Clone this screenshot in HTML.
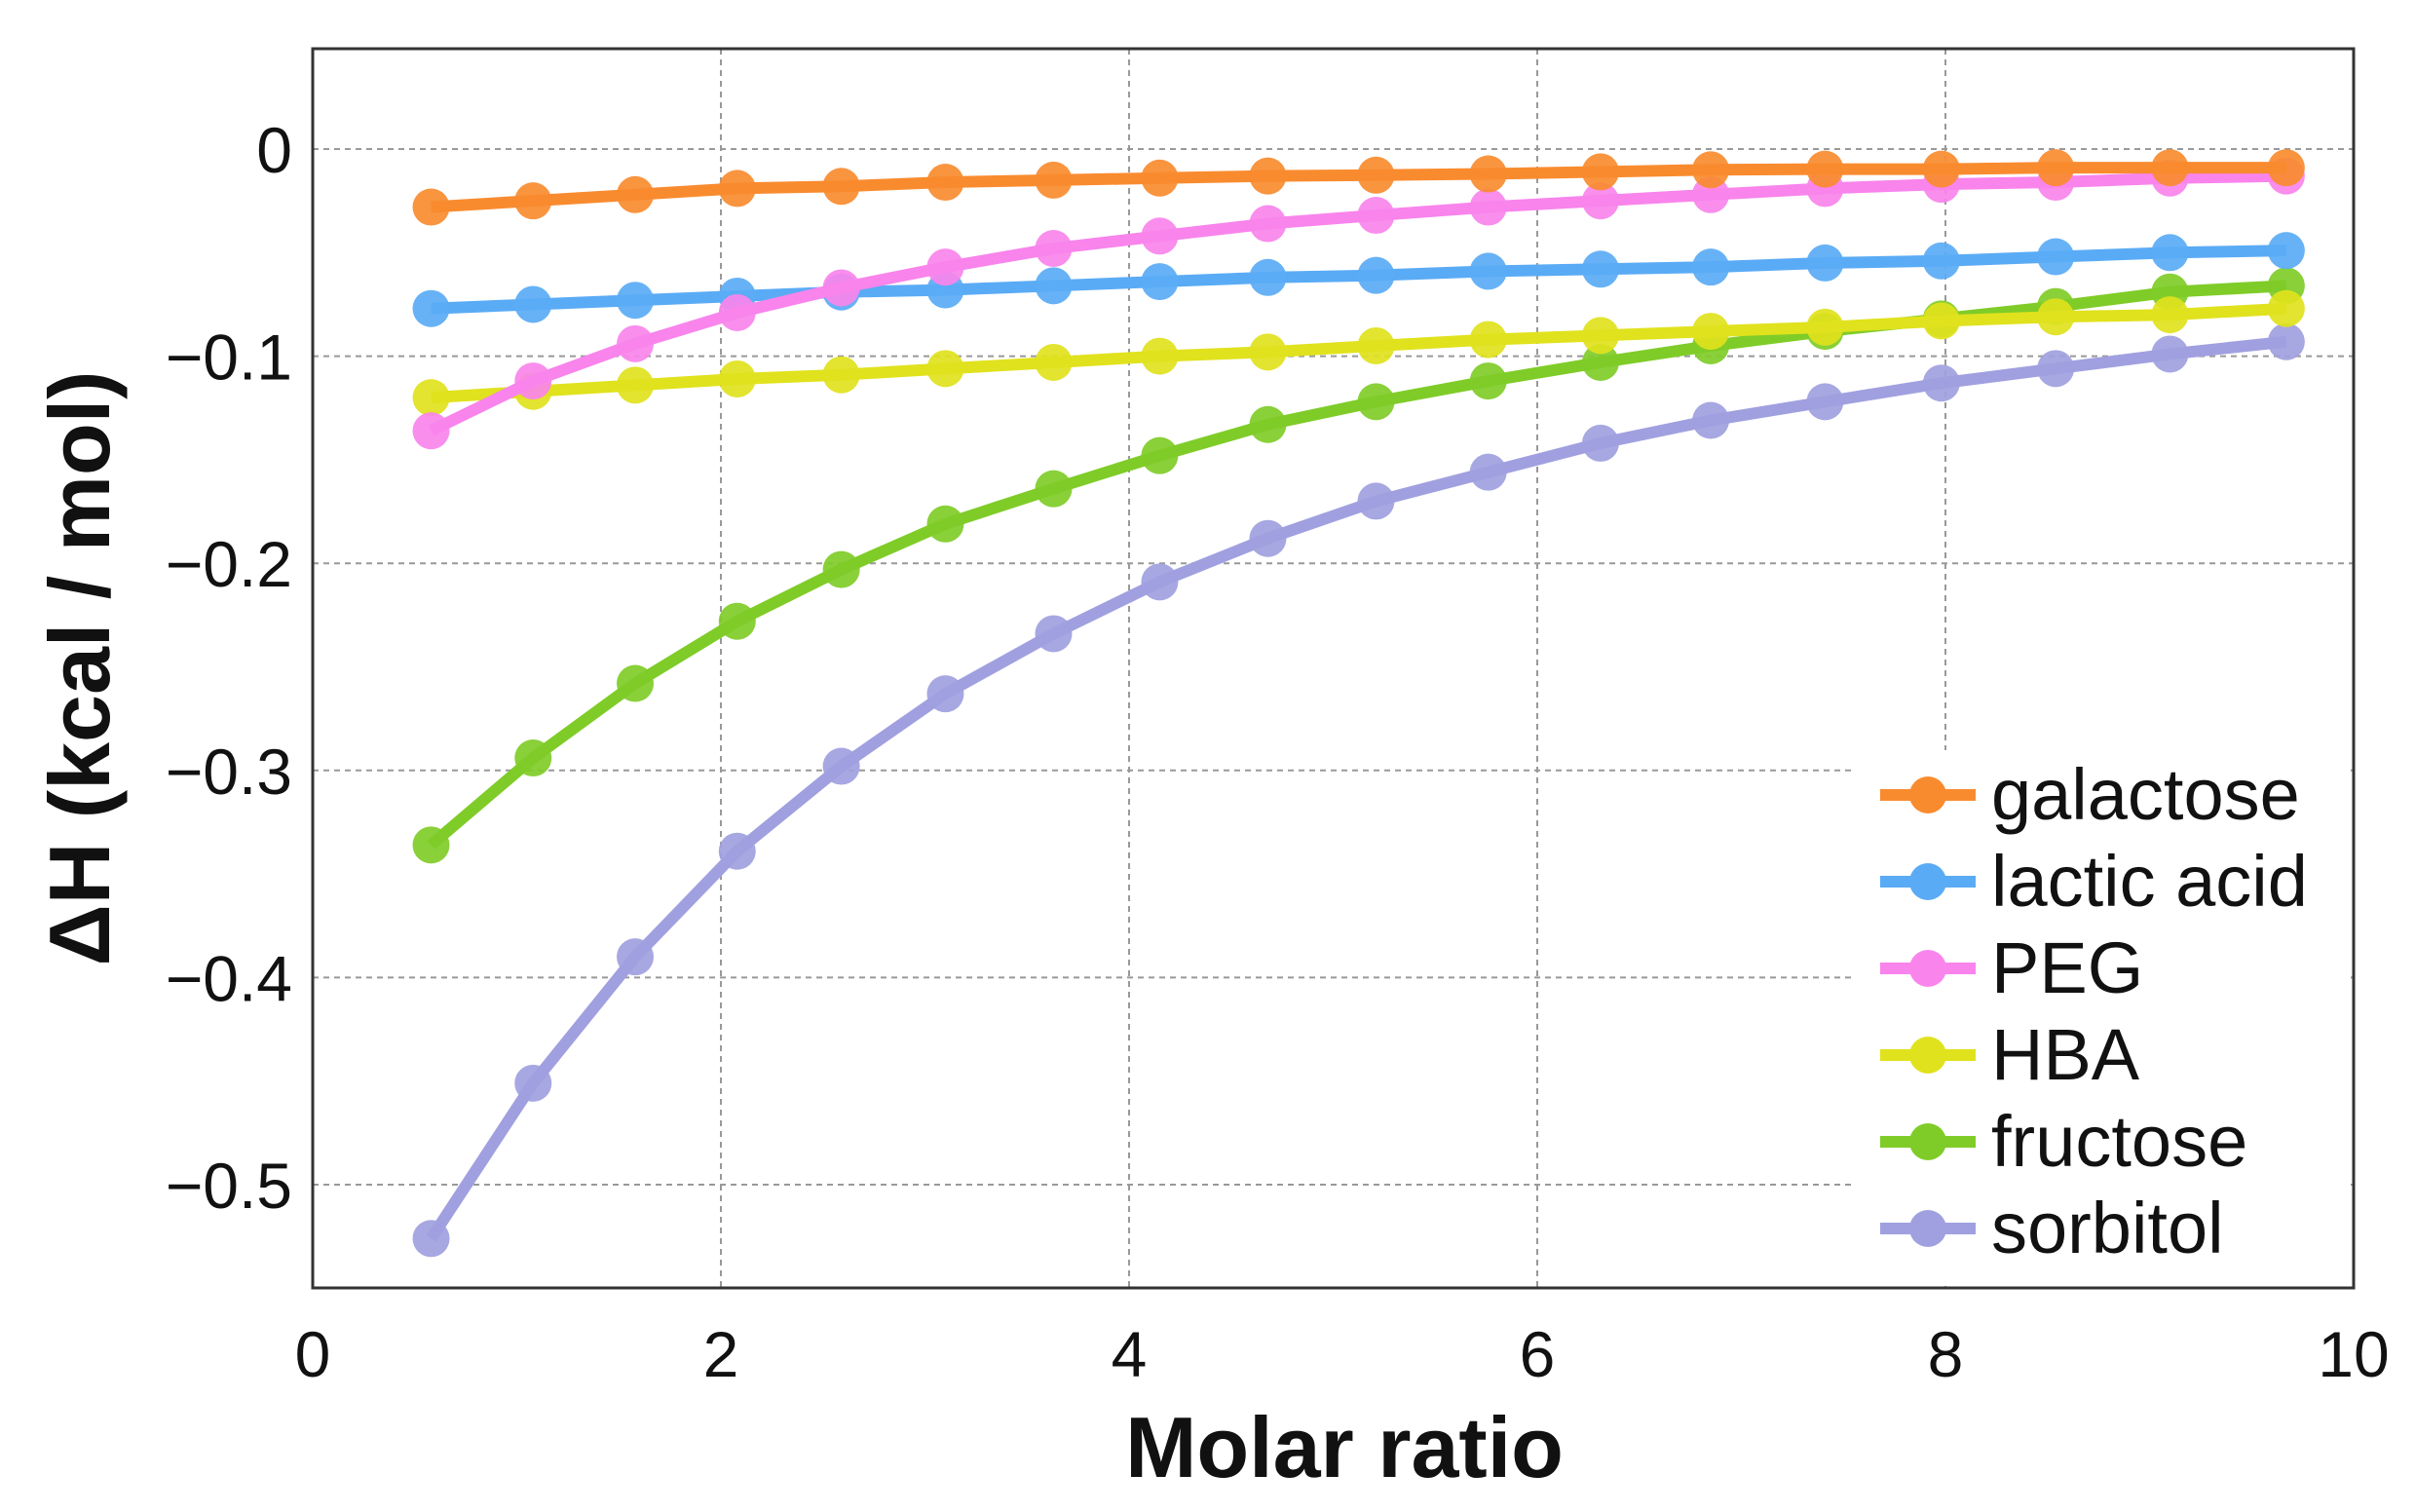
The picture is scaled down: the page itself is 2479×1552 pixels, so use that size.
<!DOCTYPE html>
<html><head><meta charset="utf-8"><style>
html,body{margin:0;padding:0;background:#fff;}
svg{display:block;font-family:"Liberation Sans","DejaVu Sans",sans-serif;}
</style></head><body>
<svg id="chart" width="2479" height="1552" viewBox="0 0 2479 1552" xmlns="http://www.w3.org/2000/svg">
<rect x="0" y="0" width="2479" height="1552" fill="#fff"/>
<g id="grid"></g>
<g id="series"></g>
<g id="legend"></g>
<rect x="321" y="50" width="2095" height="1272" fill="none" stroke="#333" stroke-width="3"/>
<g id="ticks"></g>
<text x="1380" y="1516" text-anchor="middle" font-size="88" font-weight="bold" fill="#111">Molar ratio</text>
<text transform="translate(112,686) rotate(-90)" text-anchor="middle" font-size="88" font-weight="bold" fill="#111">ΔH (kcal / mol)</text>
</svg>
<script>
const xValues = [0.58,1.08,1.58,2.08,2.59,3.1,3.63,4.15,4.68,5.21,5.76,6.31,6.85,7.41,7.98,8.54,9.1,9.67];
const seriesNames = ["galactose","lactic acid","PEG","HBA","fructose","sorbitol"];
const galactose = [-0.028,-0.025,-0.022,-0.019,-0.018,-0.016,-0.015,-0.014,-0.013,-0.0126,-0.012,-0.011,-0.010,-0.0097,-0.0097,-0.009,-0.009,-0.009];
const lacticAcid = [-0.077,-0.075,-0.073,-0.071,-0.069,-0.068,-0.066,-0.064,-0.062,-0.061,-0.059,-0.058,-0.057,-0.055,-0.054,-0.052,-0.050,-0.049];
const peg = [-0.136,-0.112,-0.094,-0.079,-0.067,-0.057,-0.048,-0.042,-0.036,-0.032,-0.028,-0.025,-0.022,-0.019,-0.017,-0.016,-0.014,-0.013];
const hba = [-0.120,-0.117,-0.114,-0.111,-0.109,-0.106,-0.103,-0.100,-0.098,-0.095,-0.092,-0.090,-0.088,-0.086,-0.083,-0.081,-0.080,-0.077];
const fructose = [-0.336,-0.294,-0.258,-0.228,-0.203,-0.181,-0.164,-0.148,-0.133,-0.122,-0.112,-0.103,-0.095,-0.088,-0.082,-0.076,-0.069,-0.066];
const sorbitol = [-0.526,-0.451,-0.390,-0.339,-0.298,-0.263,-0.234,-0.209,-0.188,-0.170,-0.156,-0.142,-0.131,-0.122,-0.113,-0.106,-0.099,-0.093];
const xTicks = [0,2,4,6,8,10];
const yTicks = [0,-0.1,-0.2,-0.3,-0.4,-0.5];
const yTickLabels = ["0","−0.1","−0.2","−0.3","−0.4","−0.5"];

const NS="http://www.w3.org/2000/svg";
const L=321,R=2416,T=50,B=1322;
function xs(v){return L+v*(R-L)/10;}
function ys(v){return 153+(-v)*2126;}
function mk(tag,attrs,parent){const e=document.createElementNS(NS,tag);for(const k in attrs)e.setAttribute(k,attrs[k]);parent.appendChild(e);return e;}
const grid=document.getElementById('grid'),ticks=document.getElementById('ticks'),sg=document.getElementById('series'),lg=document.getElementById('legend');
xTicks.forEach(t=>{
  if(t>0&&t<10){const g=mk('line',{x1:xs(t),x2:xs(t),y1:T,y2:B,stroke:'#999','stroke-width':2,'stroke-dasharray':'6,5'},grid);
  
  }
  const tx=mk('text',{x:xs(t),y:1413,'text-anchor':'middle','font-size':66,fill:'#111'},ticks);
  tx.textContent=String(t);
  
  
});
yTicks.forEach((t,i)=>{
  const g=mk('line',{x1:L,x2:R,y1:ys(t),y2:ys(t),stroke:'#999','stroke-width':2,'stroke-dasharray':'6,5'},grid);
  
  
  const tx=mk('text',{x:300,y:ys(t)+24,'text-anchor':'end','font-size':66,fill:'#111'},ticks);
  tx.textContent=yTickLabels[i];
  
  
});
const data=[galactose,lacticAcid,peg,hba,fructose,sorbitol];
const colors=["#f98b2f","#5aabf5","#f884ec","#e0e21d","#7fcc28","#a0a0e0"];
const order=[5,4,3,1,2,0];
order.forEach(si=>{
  const vals=data[si];
  const g=mk('g',{},sg);
  
  
  const pts=vals.map((v,i)=>xs(xValues[i])+','+ys(v)).join(' ');
  const pl=mk('polyline',{points:pts,fill:'none',stroke:colors[si],'stroke-width':12,'stroke-linejoin':'round'},g);
  
  
  vals.forEach((v,i)=>{
    const c=mk('circle',{cx:xs(xValues[i]),cy:ys(v),r:19,fill:colors[si],'fill-opacity':0.92},g);
    
    
  });
});
mk('rect',{x:1905,y:770,width:508,height:550,fill:'#fff'},lg);
seriesNames.forEach((n,i)=>{
  const y=816+i*89;
  const g=mk('g',{},lg);
  
  
  mk('line',{x1:1930,x2:2028,y1:y,y2:y,stroke:colors[i],'stroke-width':12},g);
  mk('circle',{cx:1979,cy:y,r:19,fill:colors[i]},g);
  const t=mk('text',{x:2044,y:y+25,'font-size':74,fill:'#111'},g);
  t.textContent=n;
});
</script>
</body></html>
